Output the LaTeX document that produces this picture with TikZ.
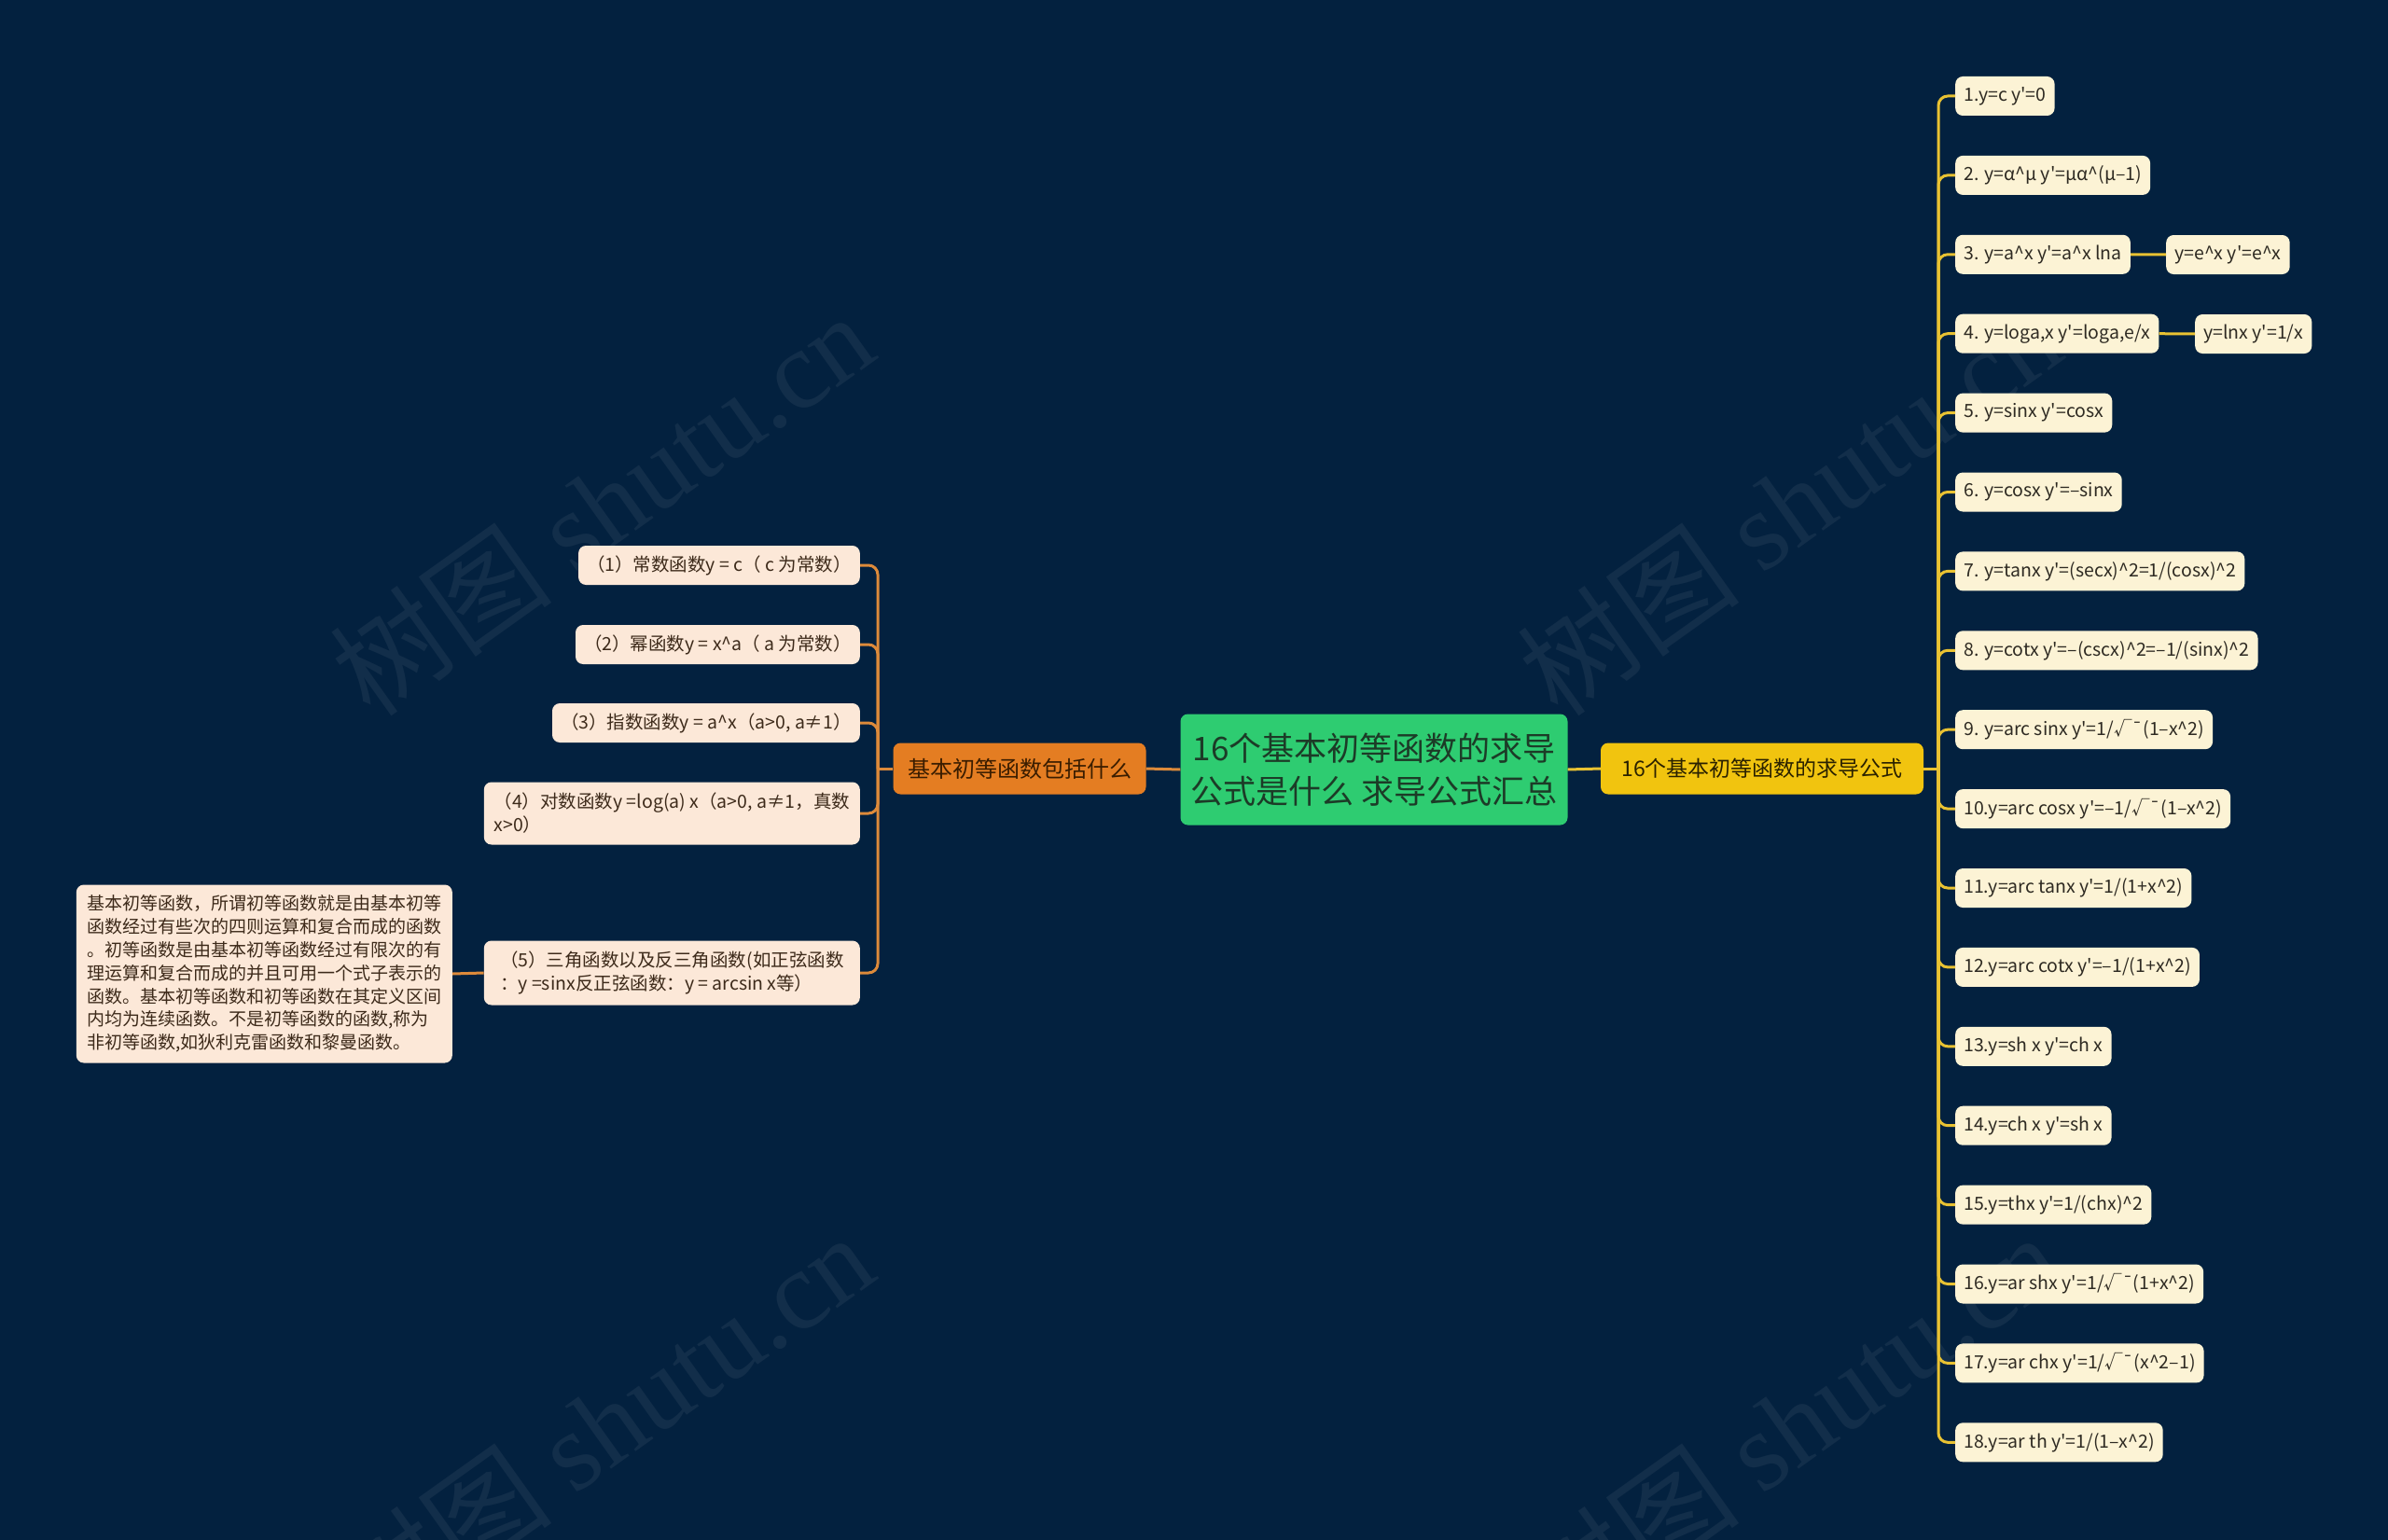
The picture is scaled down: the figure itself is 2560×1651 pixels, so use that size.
\documentclass[tikz,border=0pt]{standalone}
\usepackage{fontspec}
\newfontfamily\cjk{Noto Sans CJK SC}
\newfontfamily\wmserif{Liberation Serif}
\newcommand{\pw}{\textasciicircum}
\definecolor{bg}{HTML}{03213F}
\definecolor{grn}{HTML}{2ECC71}
\definecolor{gtext}{HTML}{1C3B27}
\definecolor{ylw}{HTML}{F1C40F}
\definecolor{yline}{HTML}{E9C232}
\definecolor{ytext}{HTML}{2A2100}
\definecolor{org}{HTML}{E47D22}
\definecolor{oline}{HTML}{DD8A3A}
\definecolor{otext}{HTML}{3A1D00}
\definecolor{rfill}{HTML}{FCF3D5}
\definecolor{rtext}{HTML}{2E2A22}
\definecolor{lfill}{HTML}{FCE8D8}
\definecolor{ltext}{HTML}{3D2A1A}
\colorlet{wm}{white!6!bg}
\begin{document}
\begin{tikzpicture}[x=1pt,y=-1pt,
  box/.style={rounded corners=8pt, inner xsep=9pt, minimum height=42pt,
    font=\cjk\fontsize{19.5}{25}\selectfont},
  rleaf/.style={box, fill=rfill, text=rtext, anchor=west},
  lleaf/.style={box, fill=lfill, text=ltext, anchor=east},
  rline/.style={draw=yline, line width=3pt, rounded corners=10pt},
  lline/.style={draw=oline, line width=3pt, rounded corners=10pt}]
\clip (0,0) rectangle (2560,1651);
\fill[bg] (0,0) rectangle (2560,1651);
\foreach \wx/\wy in {645/540,1918/540,645/1527,1918/1527}
{
\node[rotate=35.5, text=wm, font=\cjk\fontsize{120}{120}\selectfont] at (\wx,\wy) {树图 {\wmserif shutu.cn}};
}
\node[fill=grn, text=gtext, rounded corners=8pt, minimum width=415pt, minimum height=119pt,
  align=center, font=\cjk\fontsize{35}{46}\selectfont] (root) at (1473,825)
  {16个基本初等函数的求导\\公式是什么 求导公式汇总};
\node[fill=ylw, text=ytext, rounded corners=8pt, minimum width=346pt, minimum height=55pt,
  font=\cjk\fontsize{23}{28}\selectfont] (deriv) at (1889,824) {16个基本初等函数的求导公式};
\node[fill=org, text=otext, rounded corners=8pt, minimum width=271pt, minimum height=55pt,
  font=\cjk\fontsize{24}{28}\selectfont] (basic) at (1093,824) {基本初等函数包括什么};
\draw[rline] (root.east) -- (deriv.west);
\draw[lline] (root.west) -- (basic.east);
\coordinate (rj) at (2078,824);
\coordinate (lj) at (941,824);
\draw[rline] (deriv.east) -- (rj);
\draw[lline] (basic.west) -- (lj);
\foreach \t [count=\i] in {{1.y=c y'=0},{2. y=α\pw{}μ y'=μα\pw{}(μ–1)},{3. y=a\pw{}x y'=a\pw{}x lna},
  {4. y=loga,x y'=loga,e/x},{5. y=sinx y'=cosx},{6. y=cosx y'=–sinx},
  {7. y=tanx y'=(secx)\pw{}2=1/(cosx)\pw{}2},{8. y=cotx y'=–(cscx)\pw{}2=–1/(sinx)\pw{}2},
  {9. y=arc sinx y'=1/√¯(1–x\pw{}2)},{10.y=arc cosx y'=–1/√¯(1–x\pw{}2)},
  {11.y=arc tanx y'=1/(1+x\pw{}2)},{12.y=arc cotx y'=–1/(1+x\pw{}2)},
  {13.y=sh x y'=ch x},{14.y=ch x y'=sh x},{15.y=thx y'=1/(chx)\pw{}2},
  {16.y=ar shx y'=1/√¯(1+x\pw{}2)},{17.y=ar chx y'=1/√¯(x\pw{}2–1)},{18.y=ar th y'=1/(1–x\pw{}2)}}
{
\node[rleaf] (f\i) at (2096,{103+84.9*(\i-1)}) {\t};
\draw[rline] (rj) |- (f\i.west);
}
\node[rleaf] (f3b) at (2322,273) {y=e\pw{}x y'=e\pw{}x};
\node[rleaf] (f4b) at (2353,358) {y=lnx y'=1/x};
\draw[rline] (f3.east) -- (f3b.west);
\draw[rline] (f4.east) -- (f4b.west);
\node[lleaf] (c1) at (922,606) {（1）常数函数y = c（ c 为常数）};
\node[lleaf] (c2) at (922,691) {（2）幂函数y = x\pw{}a（ a 为常数）};
\node[lleaf] (c3) at (922,775) {（3）指数函数y = a\pw{}x（a>0, a≠1）};
\node[lleaf, align=left, minimum width=403pt, minimum height=67pt] (c4) at (922,872)
  {（4）对数函数y =log(a) x（a>0, a≠1，真数\\x>0）};
\node[lleaf, align=left, minimum width=403pt, minimum height=69pt] (c5) at (922,1043)
  {（5）三角函数以及反三角函数(如正弦函数\\：y =sinx反正弦函数：y = arcsin x等）};
\foreach \k in {1,...,5}
{
\draw[lline] (lj) |- (c\k.east);
}
\node[lleaf, align=left, minimum width=403pt, minimum height=191pt,
  font=\cjk\fontsize{19}{24.8}\selectfont] (note) at (485,1044)
  {基本初等函数，所谓初等函数就是由基本初等\\函数经过有些次的四则运算和复合而成的函数\\。初等函数是由基本初等函数经过有限次的有\\理运算和复合而成的并且可用一个式子表示的\\函数。基本初等函数和初等函数在其定义区间\\内均为连续函数。不是初等函数的函数,称为\\非初等函数,如狄利克雷函数和黎曼函数。};
\draw[lline] (c5.west) -- (note.east);
\end{tikzpicture}
\end{document}
